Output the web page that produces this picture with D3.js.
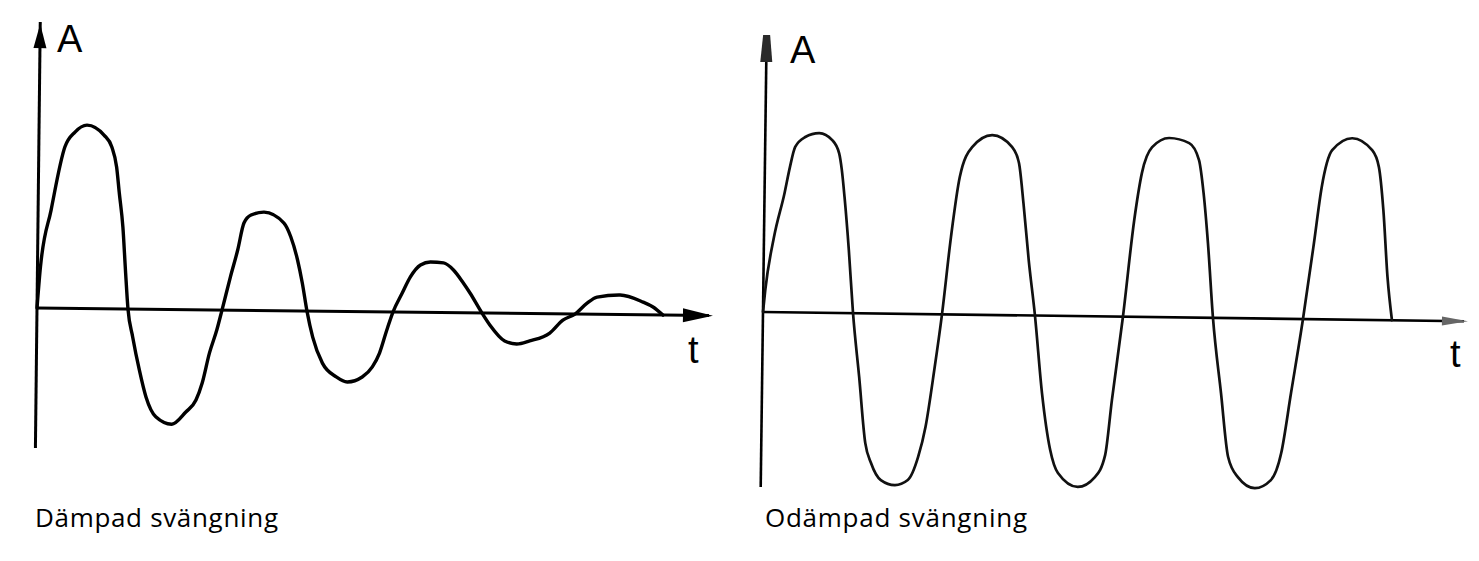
<!DOCTYPE html>
<html><head><meta charset="utf-8">
<script src="https://cdn.jsdelivr.net/npm/d3@7"></script>
<style>html,body{margin:0;padding:0;background:#fff;overflow:hidden}</style>
</head><body>
<svg id="c" width="1479" height="561"></svg>
<script>
// Damped oscillation (left): time t, amplitude A
const dampedT = [0, 0.044, 0.192, 0.385, 0.533, 0.710, 0.962, 1.080, 1.154, 1.198, 1.257, 1.302, 1.346, 1.420, 1.524, 1.627, 1.775, 2.012, 2.219, 2.367, 2.456, 2.559, 2.663, 2.737, 2.855, 2.959, 3.047, 3.151, 3.343, 3.639, 3.743, 3.846, 3.920, 3.994, 4.083, 4.231, 4.438, 4.601, 4.822, 4.970, 5.074, 5.178, 5.266, 5.400, 5.518, 5.666, 5.814, 6.006, 6.154, 6.302, 6.405, 6.583, 6.701, 6.923, 7.101, 7.293, 7.589, 7.781, 7.959, 8.136, 8.284, 8.624, 8.964, 9.112, 9.260];
const dampedA = [0, 0.225, 0.539, 0.886, 0.969, 1.008, 0.954, 0.889, 0.780, 0.637, 0.450, 0.214, 0, -0.153, -0.334, -0.482, -0.590, -0.630, -0.562, -0.496, -0.402, -0.236, -0.110, 0, 0.182, 0.331, 0.480, 0.524, 0.541, 0.482, 0.406, 0.280, 0.154, 0, -0.143, -0.285, -0.360, -0.387, -0.359, -0.303, -0.226, -0.099, 0, 0.105, 0.194, 0.260, 0.277, 0.273, 0.235, 0.164, 0.108, 0, -0.065, -0.152, -0.168, -0.150, -0.106, -0.034, 0, 0.061, 0.095, 0.108, 0.070, 0.044, 0];
// Undamped oscillation (right)
const undampedT = [0, 0.028, 0.142, 0.284, 0.355, 0.426, 0.567, 0.766, 0.950, 1.050, 1.092, 1.135, 1.206, 1.277, 1.376, 1.475, 1.560, 1.702, 1.901, 2.085, 2.227, 2.326, 2.440, 2.539, 2.652, 2.766, 2.936, 3.220, 3.504, 3.603, 3.674, 3.759, 3.858, 3.972, 4.099, 4.213, 4.496, 4.738, 4.879, 4.965, 5.106, 5.248, 5.348, 5.489, 5.730, 6.014, 6.156, 6.227, 6.298, 6.383, 6.511, 6.624, 6.766, 7.007, 7.234, 7.376, 7.504, 7.660, 7.801, 7.901, 8.043, 8.326, 8.610, 8.709, 8.780, 8.851, 8.922];
const undampedA = [0, 0.122, 0.417, 0.663, 0.807, 0.919, 0.975, 0.998, 0.960, 0.888, 0.794, 0.645, 0.350, 0, -0.354, -0.721, -0.831, -0.925, -0.952, -0.923, -0.794, -0.627, -0.310, 0, 0.430, 0.764, 0.931, 0.999, 0.934, 0.846, 0.624, 0.308, 0, -0.430, -0.746, -0.873, -0.949, -0.893, -0.770, -0.464, 0, 0.537, 0.799, 0.944, 0.996, 0.969, 0.875, 0.692, 0.415, 0, -0.417, -0.772, -0.883, -0.943, -0.897, -0.746, -0.412, 0, 0.422, 0.734, 0.940, 1.008, 0.943, 0.849, 0.611, 0.239, 0];
const panelTitles = ["Dämpad svängning", "Odämpad svängning"];
const yAxisLabel = "A";
const xAxisLabel = "t";
const tDomain = [0, 10];

const svg = d3.select("#c");

const panels = [
  { t: dampedT, a: dampedA, title: panelTitles[0],
    x: d3.scaleLinear().domain(tDomain).range([37, 713]),
    y: d3.scaleLinear().domain([-1, 1]).range([490, 126]),
    yTop: 1.571, yBottom: -0.769, tilt: 0.65,
    curveW: 3.4, axisW: 3, curveColor: "#000",
    yHead: { len: 24, half: 6.5, fill: "#000", tipGap: 2 },
    xHead: { len: 30, half: 7, fill: "#000" },
    aPos: [57, 52], tPos: [688, 363], titlePos: [35, 527], titleLen: 243 },
  { t: undampedT, a: undampedA, title: panelTitles[1],
    x: d3.scaleLinear().domain(tDomain).range([763, 1468]),
    y: d3.scaleLinear().domain([-1, 1]).range([492, 132]),
    yTop: 1.539, yBottom: -0.972, tilt: 0.75,
    curveW: 2.7, axisW: 2.6, curveColor: "#111",
    yHead: { len: 27, half: 6, fill: "#2a2a2a", tipGap: 0, flat: 3.5 },
    xHead: { len: 26, half: 4.5, fill: "#666" },
    aPos: [790, 63], tPos: [1450, 367], titlePos: [765, 527], titleLen: 262 }
];

panels.forEach(p => {
  const x0 = p.x(0), y0 = p.y(0);
  const g = svg.append("g").attr("transform", `rotate(${p.tilt},${x0},${y0})`);

  // axes
  g.append("line").attr("x1", x0).attr("y1", p.y(p.yBottom))
    .attr("x2", x0).attr("y2", p.y(p.yTop))
    .attr("stroke", "#000").attr("stroke-width", p.axisW);
  g.append("line").attr("x1", x0).attr("y1", y0)
    .attr("x2", p.x(tDomain[1]) - 4).attr("y2", y0)
    .attr("stroke", "#000").attr("stroke-width", p.axisW);

  // y arrow head
  const yt = p.y(p.yTop) + p.yHead.tipGap, yb = yt + p.yHead.len;
  const f = p.yHead.flat || 0;
  const yPts = f ? [[x0 - f, yt], [x0 + f, yt], [x0 + p.yHead.half, yb], [x0 - p.yHead.half, yb]]
                 : [[x0, yt], [x0 + p.yHead.half, yb], [x0 - p.yHead.half, yb]];
  g.append("path").attr("d", d3.line()(yPts) + "Z").attr("fill", p.yHead.fill);

  // x arrow head
  const xt = p.x(tDomain[1]), xb = xt - p.xHead.len;
  g.append("path").attr("d", d3.line()([[xt, y0], [xb, y0 - p.xHead.half], [xb, y0 + p.xHead.half]]) + "Z")
    .attr("fill", p.xHead.fill);

  // curve
  const pts = p.t.map((t, i) => [t, p.a[i]]);
  g.append("path")
    .attr("d", d3.line().x(d => p.x(d[0])).y(d => p.y(d[1])).curve(d3.curveMonotoneX)(pts))
    .attr("fill", "none").attr("stroke", p.curveColor).attr("stroke-width", p.curveW)
    .attr("stroke-linejoin", "round").attr("stroke-linecap", "round");

  // labels
  svg.append("text").attr("x", p.aPos[0]).attr("y", p.aPos[1]).text(yAxisLabel)
    .attr("font-family", "Liberation Sans, Arial, sans-serif").attr("font-size", 38).attr("fill", "#000");
  svg.append("text").attr("x", p.tPos[0]).attr("y", p.tPos[1]).text(xAxisLabel)
    .attr("font-family", "Liberation Sans, Arial, sans-serif").attr("font-size", 38).attr("fill", "#000");
  svg.append("text").attr("x", p.titlePos[0]).attr("y", p.titlePos[1]).text(p.title)
    .attr("font-family", "Open Sans, sans-serif").attr("font-size", 26).attr("fill", "#000")
    .attr("textLength", p.titleLen);
});
</script>
</body></html>
